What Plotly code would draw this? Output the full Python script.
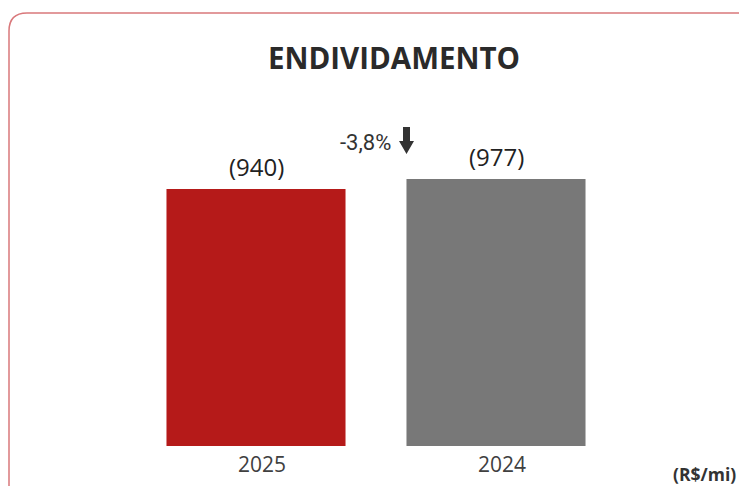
import plotly.graph_objects as go

categories = ["2025", "2024"]
values = [940, 977]
value_labels = ["(940)", "(977)"]
bar_colors = ["#B51A19", "#787878"]
change_label = "-3,8%"
title_text = "ENDIVIDAMENTO"
unit_text = "(R$/mi)"

# page has an 8px body margin, so the figure starts at (8, 8)
OFF = 8
W, H = 731, 478
L, R, T, B = 128, 123, 92, 40
PW, PH = W - L - R, H - T - B

def px(x):
    return (x - OFF - L) / PW

def py(y):
    return (H - B - (y - OFF)) / PH

xpos = list(range(len(categories)))

fig = go.Figure()
fig.add_trace(go.Bar(
    x=xpos, y=values,
    marker=dict(color=bar_colors, line=dict(width=0)),
    width=0.746,
    hoverinfo="skip",
))

for i, v, lab in zip(xpos, values, value_labels):
    fig.add_annotation(x=i, y=v, text=lab, showarrow=False, yanchor="bottom",
                       yshift=4, font=dict(family="Open Sans", size=24, color="#222222"))

fig.add_annotation(x=px(365), y=py(142), xref="paper", yref="paper", text=change_label,
                   showarrow=False, xanchor="center", yanchor="middle",
                   font=dict(family="Roboto", size=22, color="#333333"))

# down arrow glyph
ax = [px(403), px(410), px(414), px(399)]
ay = [py(127), py(141), py(154)]
arrow = (f"M {ax[0]},{ay[0]} L {ax[1]},{ay[0]} L {ax[1]},{ay[1]} L {ax[2]},{ay[1]} "
         f"L {(ax[2] + ax[3]) / 2},{ay[2]} L {ax[3]},{ay[1]} L {ax[0]},{ay[1]} Z")
fig.add_shape(type="path", path=arrow, xref="paper", yref="paper",
              fillcolor="#333333", line=dict(width=0))

fig.add_annotation(x=px(738), y=py(474), xref="paper", yref="paper", text="<b>" + unit_text + "</b>",
                   showarrow=False, xanchor="right", yanchor="middle",
                   font=dict(family="Open Sans", size=17.5, color="#333333"))

# rounded frame
r = 18
x0, y0, x1, y1 = 9, 13, 780, 520
path = (f"M {px(x0)},{py(y1)} L {px(x0)},{py(y0 + r)} "
        f"Q {px(x0)},{py(y0)} {px(x0 + r)},{py(y0)} L {px(x1)},{py(y0)}")
fig.add_shape(type="path", path=path, xref="paper", yref="paper",
              line=dict(color="#D9787B", width=1.5))

fig.update_layout(
    width=W, height=H,
    margin=dict(l=L, r=R, t=T, b=B, autoexpand=False),
    paper_bgcolor="white", plot_bgcolor="white",
    showlegend=False,
    title=dict(text="<b>" + title_text + "</b>", x=px(394), xref="paper", xanchor="center",
               y=1 - (59 - OFF) / H, yanchor="middle",
               font=dict(family="Open Sans", size=29.5, color="#2A2A2A")),
    xaxis=dict(showline=False, showgrid=False, zeroline=False, ticks="",
               tickvals=xpos, ticktext=categories, range=[-0.5, len(categories) - 0.5],
               automargin=False, ticklabelshift=6, ticklabelstandoff=4,
               tickfont=dict(family="Open Sans", size=21, color="#404040")),
    yaxis=dict(visible=False, range=[0, PH / (257 / 940)], automargin=False),
)

fig.write_html("out.html")
